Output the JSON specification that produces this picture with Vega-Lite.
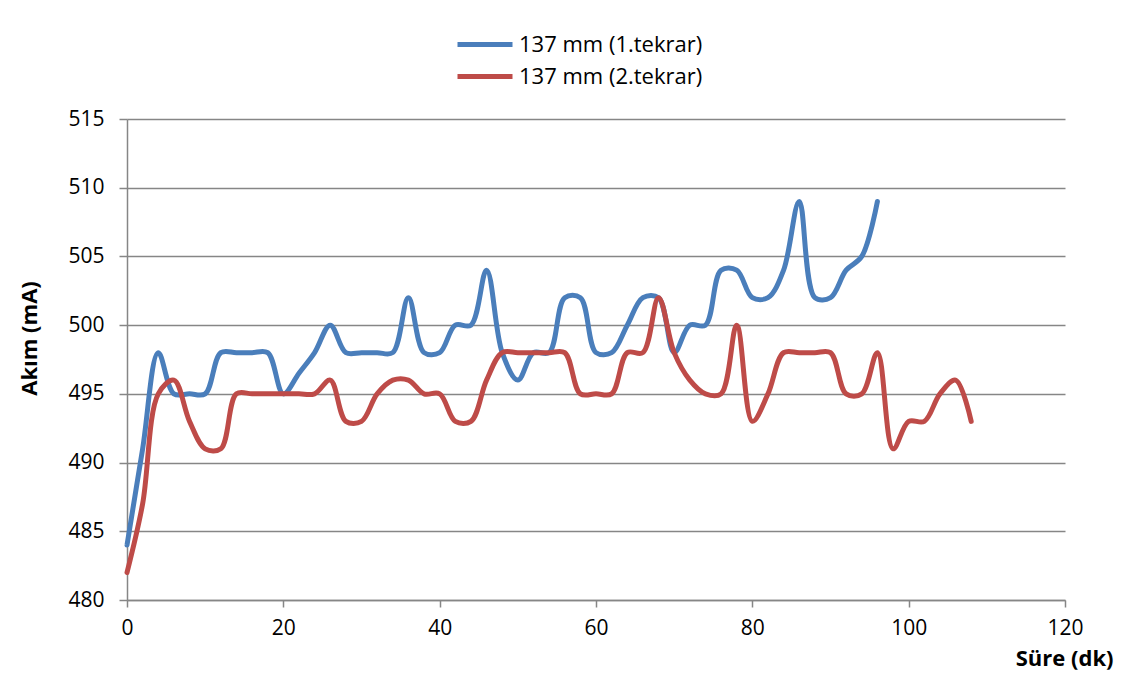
{
  "$schema": "https://vega.github.io/schema/vega-lite/v6.json",
  "autosize": {"type": "none"},
  "width": 938,
  "height": 481,
  "padding": {"left": 127, "top": 119, "right": 81, "bottom": 80},
  "background": "white",
  "config": {
    "font": "Open Sans",
    "view": {"stroke": null},
    "axis": {
      "labelFont": "Open Sans",
      "labelFontSize": 21,
      "labelColor": "#000000",
      "labelFlush": false,
      "titleFont": "Open Sans",
      "titleFontSize": 22,
      "titleFontWeight": "bold",
      "titleColor": "#000000",
      "domainColor": "#868686",
      "domainWidth": 1.5,
      "tickColor": "#868686",
      "tickWidth": 1.5,
      "gridColor": "#868686",
      "gridWidth": 1.5
    },
    "legend": {
      "labelFont": "Open Sans",
      "labelFontSize": 22,
      "labelColor": "#000000",
      "labelLimit": 400
    }
  },
  "data": {
    "values": [
      {"t": 0, "akim": 484, "seri": "137 mm (1.tekrar)"},
      {"t": 2, "akim": 491, "seri": "137 mm (1.tekrar)"},
      {"t": 4, "akim": 498, "seri": "137 mm (1.tekrar)"},
      {"t": 6, "akim": 495, "seri": "137 mm (1.tekrar)"},
      {"t": 8, "akim": 495, "seri": "137 mm (1.tekrar)"},
      {"t": 10, "akim": 495, "seri": "137 mm (1.tekrar)"},
      {"t": 12, "akim": 498, "seri": "137 mm (1.tekrar)"},
      {"t": 14, "akim": 498, "seri": "137 mm (1.tekrar)"},
      {"t": 16, "akim": 498, "seri": "137 mm (1.tekrar)"},
      {"t": 18, "akim": 498, "seri": "137 mm (1.tekrar)"},
      {"t": 20, "akim": 495, "seri": "137 mm (1.tekrar)"},
      {"t": 22, "akim": 496.5, "seri": "137 mm (1.tekrar)"},
      {"t": 24, "akim": 498, "seri": "137 mm (1.tekrar)"},
      {"t": 26, "akim": 500, "seri": "137 mm (1.tekrar)"},
      {"t": 28, "akim": 498, "seri": "137 mm (1.tekrar)"},
      {"t": 30, "akim": 498, "seri": "137 mm (1.tekrar)"},
      {"t": 32, "akim": 498, "seri": "137 mm (1.tekrar)"},
      {"t": 34, "akim": 498, "seri": "137 mm (1.tekrar)"},
      {"t": 36, "akim": 502, "seri": "137 mm (1.tekrar)"},
      {"t": 38, "akim": 498, "seri": "137 mm (1.tekrar)"},
      {"t": 40, "akim": 498, "seri": "137 mm (1.tekrar)"},
      {"t": 42, "akim": 500, "seri": "137 mm (1.tekrar)"},
      {"t": 44, "akim": 500, "seri": "137 mm (1.tekrar)"},
      {"t": 46, "akim": 504, "seri": "137 mm (1.tekrar)"},
      {"t": 48, "akim": 498, "seri": "137 mm (1.tekrar)"},
      {"t": 50, "akim": 496, "seri": "137 mm (1.tekrar)"},
      {"t": 52, "akim": 498, "seri": "137 mm (1.tekrar)"},
      {"t": 54, "akim": 498, "seri": "137 mm (1.tekrar)"},
      {"t": 56, "akim": 502, "seri": "137 mm (1.tekrar)"},
      {"t": 58, "akim": 502, "seri": "137 mm (1.tekrar)"},
      {"t": 60, "akim": 498, "seri": "137 mm (1.tekrar)"},
      {"t": 62, "akim": 498, "seri": "137 mm (1.tekrar)"},
      {"t": 64, "akim": 500, "seri": "137 mm (1.tekrar)"},
      {"t": 66, "akim": 502, "seri": "137 mm (1.tekrar)"},
      {"t": 68, "akim": 502, "seri": "137 mm (1.tekrar)"},
      {"t": 70, "akim": 498, "seri": "137 mm (1.tekrar)"},
      {"t": 72, "akim": 500, "seri": "137 mm (1.tekrar)"},
      {"t": 74, "akim": 500, "seri": "137 mm (1.tekrar)"},
      {"t": 76, "akim": 504, "seri": "137 mm (1.tekrar)"},
      {"t": 78, "akim": 504, "seri": "137 mm (1.tekrar)"},
      {"t": 80, "akim": 502, "seri": "137 mm (1.tekrar)"},
      {"t": 82, "akim": 502, "seri": "137 mm (1.tekrar)"},
      {"t": 84, "akim": 504, "seri": "137 mm (1.tekrar)"},
      {"t": 86, "akim": 509, "seri": "137 mm (1.tekrar)"},
      {"t": 88, "akim": 502, "seri": "137 mm (1.tekrar)"},
      {"t": 90, "akim": 502, "seri": "137 mm (1.tekrar)"},
      {"t": 92, "akim": 504, "seri": "137 mm (1.tekrar)"},
      {"t": 94, "akim": 505, "seri": "137 mm (1.tekrar)"},
      {"t": 96, "akim": 509, "seri": "137 mm (1.tekrar)"},
      {"t": 0, "akim": 482, "seri": "137 mm (2.tekrar)"},
      {"t": 2, "akim": 487, "seri": "137 mm (2.tekrar)"},
      {"t": 4, "akim": 495, "seri": "137 mm (2.tekrar)"},
      {"t": 6, "akim": 496, "seri": "137 mm (2.tekrar)"},
      {"t": 8, "akim": 493, "seri": "137 mm (2.tekrar)"},
      {"t": 10, "akim": 491, "seri": "137 mm (2.tekrar)"},
      {"t": 12, "akim": 491, "seri": "137 mm (2.tekrar)"},
      {"t": 14, "akim": 495, "seri": "137 mm (2.tekrar)"},
      {"t": 16, "akim": 495, "seri": "137 mm (2.tekrar)"},
      {"t": 18, "akim": 495, "seri": "137 mm (2.tekrar)"},
      {"t": 20, "akim": 495, "seri": "137 mm (2.tekrar)"},
      {"t": 22, "akim": 495, "seri": "137 mm (2.tekrar)"},
      {"t": 24, "akim": 495, "seri": "137 mm (2.tekrar)"},
      {"t": 26, "akim": 496, "seri": "137 mm (2.tekrar)"},
      {"t": 28, "akim": 493, "seri": "137 mm (2.tekrar)"},
      {"t": 30, "akim": 493, "seri": "137 mm (2.tekrar)"},
      {"t": 32, "akim": 495, "seri": "137 mm (2.tekrar)"},
      {"t": 34, "akim": 496, "seri": "137 mm (2.tekrar)"},
      {"t": 36, "akim": 496, "seri": "137 mm (2.tekrar)"},
      {"t": 38, "akim": 495, "seri": "137 mm (2.tekrar)"},
      {"t": 40, "akim": 495, "seri": "137 mm (2.tekrar)"},
      {"t": 42, "akim": 493, "seri": "137 mm (2.tekrar)"},
      {"t": 44, "akim": 493, "seri": "137 mm (2.tekrar)"},
      {"t": 46, "akim": 496, "seri": "137 mm (2.tekrar)"},
      {"t": 48, "akim": 498, "seri": "137 mm (2.tekrar)"},
      {"t": 50, "akim": 498, "seri": "137 mm (2.tekrar)"},
      {"t": 52, "akim": 498, "seri": "137 mm (2.tekrar)"},
      {"t": 54, "akim": 498, "seri": "137 mm (2.tekrar)"},
      {"t": 56, "akim": 498, "seri": "137 mm (2.tekrar)"},
      {"t": 58, "akim": 495, "seri": "137 mm (2.tekrar)"},
      {"t": 60, "akim": 495, "seri": "137 mm (2.tekrar)"},
      {"t": 62, "akim": 495, "seri": "137 mm (2.tekrar)"},
      {"t": 64, "akim": 498, "seri": "137 mm (2.tekrar)"},
      {"t": 66, "akim": 498, "seri": "137 mm (2.tekrar)"},
      {"t": 68, "akim": 502, "seri": "137 mm (2.tekrar)"},
      {"t": 70, "akim": 498, "seri": "137 mm (2.tekrar)"},
      {"t": 72, "akim": 496, "seri": "137 mm (2.tekrar)"},
      {"t": 74, "akim": 495, "seri": "137 mm (2.tekrar)"},
      {"t": 76, "akim": 495, "seri": "137 mm (2.tekrar)"},
      {"t": 78, "akim": 500, "seri": "137 mm (2.tekrar)"},
      {"t": 80, "akim": 493, "seri": "137 mm (2.tekrar)"},
      {"t": 82, "akim": 495, "seri": "137 mm (2.tekrar)"},
      {"t": 84, "akim": 498, "seri": "137 mm (2.tekrar)"},
      {"t": 86, "akim": 498, "seri": "137 mm (2.tekrar)"},
      {"t": 88, "akim": 498, "seri": "137 mm (2.tekrar)"},
      {"t": 90, "akim": 498, "seri": "137 mm (2.tekrar)"},
      {"t": 92, "akim": 495, "seri": "137 mm (2.tekrar)"},
      {"t": 94, "akim": 495, "seri": "137 mm (2.tekrar)"},
      {"t": 96, "akim": 498, "seri": "137 mm (2.tekrar)"},
      {"t": 98, "akim": 491, "seri": "137 mm (2.tekrar)"},
      {"t": 100, "akim": 493, "seri": "137 mm (2.tekrar)"},
      {"t": 102, "akim": 493, "seri": "137 mm (2.tekrar)"},
      {"t": 104, "akim": 495, "seri": "137 mm (2.tekrar)"},
      {"t": 106, "akim": 496, "seri": "137 mm (2.tekrar)"},
      {"t": 108, "akim": 493, "seri": "137 mm (2.tekrar)"}
    ]
  },
  "mark": {"type": "line", "interpolate": "catmull-rom", "strokeWidth": 5, "strokeCap": "round", "strokeJoin": "round"},
  "encoding": {
    "x": {
      "field": "t",
      "type": "quantitative",
      "scale": {"domain": [0, 120], "nice": false, "zero": false},
      "axis": {
        "title": "Süre (dk)",
        "values": [0, 20, 40, 60, 80, 100, 120],
        "grid": false,
        "tickSize": 7,
        "labelPadding": 10,
        "titleX": 986,
        "titleY": 65,
        "titleAlign": "right",
        "titleBaseline": "alphabetic",
        "titleAnchor": null
      }
    },
    "y": {
      "field": "akim",
      "type": "quantitative",
      "scale": {"domain": [480, 515], "nice": false, "zero": false},
      "axis": {
        "title": "Akım (mA)",
        "values": [480, 485, 490, 495, 500, 505, 510, 515],
        "grid": true,
        "tickSize": 8,
        "labelPadding": 15,
        "titleX": -86,
        "titleY": 219,
        "titleAlign": "center",
        "titleAngle": -90,
        "titleBaseline": "bottom"
      }
    },
    "color": {
      "field": "seri",
      "type": "nominal",
      "scale": {"domain": ["137 mm (1.tekrar)", "137 mm (2.tekrar)"], "range": ["#4A7EBB", "#BE4B48"]},
      "legend": {
        "title": null,
        "orient": "none",
        "direction": "vertical",
        "legendX": 328,
        "legendY": -87,
        "symbolType": "stroke",
        "symbolSize": 3025,
        "symbolStrokeWidth": 5,
        "clipHeight": 25,
        "labelOffset": 4,
        "rowPadding": 7
      }
    }
  }
}
